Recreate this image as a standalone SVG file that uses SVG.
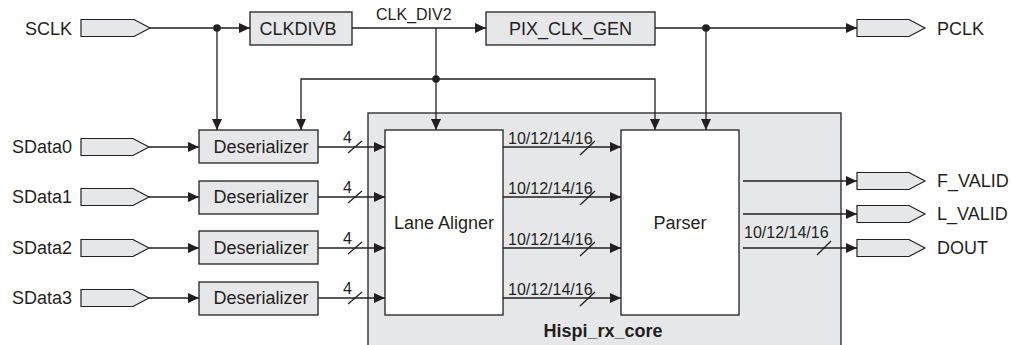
<svg xmlns="http://www.w3.org/2000/svg" width="1013" height="345" viewBox="0 0 1013 345">
<style>
.box{fill:#e6e7e8;stroke:#231f20;stroke-width:1.3}
.wbox{fill:#ffffff;stroke:#231f20;stroke-width:1.3}
.port{fill:#e6e7e8;stroke:#231f20;stroke-width:1.2}
.t{font-family:"Liberation Sans",Arial,sans-serif;font-size:18px;fill:#231f20}
.s{font-family:"Liberation Sans",Arial,sans-serif;font-size:16px;fill:#231f20}
.b{font-family:"Liberation Sans",Arial,sans-serif;font-size:18px;font-weight:bold;fill:#231f20}
.w{fill:none;stroke:#231f20;stroke-width:1.3}
.a{marker-end:url(#arr)}
.dot{fill:#231f20}
</style>
<defs>
<marker id="arr" viewBox="0 0 11 10" refX="11" refY="5" markerWidth="11" markerHeight="10" markerUnits="userSpaceOnUse" orient="auto"><path d="M0,0 L11,5 L0,10 z" fill="#231f20"/></marker>
</defs>
<rect width="1013" height="345" fill="#ffffff"/>

<g id="hispi_rx_core">
<rect class="box" x="368" y="113" width="473" height="240"/>
<text class="b" x="603" y="337" text-anchor="middle">Hispi_rx_core</text>
</g>

<g id="sclk"><path class="port" d="M81,19.5 H134 L150,28 L134,36.5 H81 Z"/><text class="t" x="25" y="35">SCLK</text></g>
<g id="clkdivb"><rect class="box" x="250" y="12" width="102" height="33"/><text class="t" x="298" y="35" text-anchor="middle">CLKDIVB</text></g>
<g id="pix_clk_gen"><rect class="box" x="486" y="12" width="169" height="33"/><text class="t" x="570.5" y="35" text-anchor="middle">PIX_CLK_GEN</text></g>
<g id="pclk"><path class="port" d="M857,19.5 H909 L925,28 L909,36.5 H857 Z"/><text class="t" x="937" y="35">PCLK</text></g>

<g id="sdata0"><path class="port" d="M81,138.5 H133 L149,147 L133,155.5 H81 Z"/><text class="t" x="12" y="153">SData0</text></g>
<g id="sdata1"><path class="port" d="M81,188.5 H133 L149,197 L133,205.5 H81 Z"/><text class="t" x="12" y="203">SData1</text></g>
<g id="sdata2"><path class="port" d="M81,239.5 H133 L149,248 L133,256.5 H81 Z"/><text class="t" x="12" y="254">SData2</text></g>
<g id="sdata3"><path class="port" d="M81,289.5 H133 L149,298 L133,306.5 H81 Z"/><text class="t" x="12" y="304">SData3</text></g>

<g id="deser0"><rect class="box" x="199" y="130" width="119" height="33"/><text class="t" x="261" y="153" text-anchor="middle">Deserializer</text></g>
<g id="deser1"><rect class="box" x="199" y="181" width="119" height="33"/><text class="t" x="261" y="203" text-anchor="middle">Deserializer</text></g>
<g id="deser2"><rect class="box" x="199" y="231" width="119" height="33"/><text class="t" x="261" y="254" text-anchor="middle">Deserializer</text></g>
<g id="deser3"><rect class="box" x="199" y="282" width="119" height="33"/><text class="t" x="261" y="304" text-anchor="middle">Deserializer</text></g>

<g id="lane_aligner"><rect class="wbox" x="385" y="130" width="118" height="185"/><text class="t" x="444" y="228.5" text-anchor="middle">Lane Aligner</text></g>
<g id="parser"><rect class="wbox" x="621" y="130" width="118" height="185"/><text class="t" x="680" y="228.5" text-anchor="middle">Parser</text></g>

<g id="f_valid"><path class="port" d="M857,172.5 H909 L925,181 L909,189.5 H857 Z"/><text class="t" x="937" y="187">F_VALID</text></g>
<g id="l_valid"><path class="port" d="M857,205.5 H909 L925,214 L909,222.5 H857 Z"/><text class="t" x="937" y="220">L_VALID</text></g>
<g id="dout"><path class="port" d="M857,239.5 H909 L925,248 L909,256.5 H857 Z"/><text class="t" x="937" y="254">DOUT</text></g>

<g id="connectors">
<path class="w a" d="M150,28 H250"/>
<path class="w a" d="M217,28 V130"/>
<path class="w a" d="M352,28 H486"/>
<path class="w a" d="M436,28 V130"/>
<path class="w a" d="M436,79 H301 V130"/>
<path class="w a" d="M436,79 H655 V130"/>
<path class="w a" d="M655,28 H857"/>
<path class="w a" d="M706,28 V130"/>
<circle class="dot" cx="217" cy="28" r="3.8"/>
<circle class="dot" cx="436" cy="79" r="3.8"/>
<circle class="dot" cx="706" cy="28" r="3.8"/>
<text class="s" x="376" y="20">CLK_DIV2</text>

<path class="w a" d="M149,147 H199"/>
<path class="w a" d="M149,197 H199"/>
<path class="w a" d="M149,248 H199"/>
<path class="w a" d="M149,298 H199"/>

<path class="w a" d="M318,147 H385"/>
<path class="w a" d="M318,197 H385"/>
<path class="w a" d="M318,248 H385"/>
<path class="w a" d="M318,298 H385"/>
<path class="w" d="M348,153 L362,141 M348,203 L362,191 M348,254 L362,242 M348,304 L362,292"/>
<text class="s" x="343" y="143">4</text>
<text class="s" x="343" y="193">4</text>
<text class="s" x="343" y="244">4</text>
<text class="s" x="343" y="294">4</text>

<path class="w a" d="M503,147 H621"/>
<path class="w a" d="M503,197 H621"/>
<path class="w a" d="M503,248 H621"/>
<path class="w a" d="M503,298 H621"/>
<path class="w" d="M580,155 L595,141 M580,205 L595,191 M580,256 L595,242 M580,306 L595,292"/>
<text class="s" x="508" y="143.5">10/12/14/16</text>
<text class="s" x="508" y="193.5">10/12/14/16</text>
<text class="s" x="508" y="244.5">10/12/14/16</text>
<text class="s" x="508" y="294.5">10/12/14/16</text>

<path class="w a" d="M743,181 H857"/>
<path class="w a" d="M743,214 H857"/>
<path class="w a" d="M743,248 H857"/>
<path class="w" d="M817,255 L831,241"/>
<text class="s" x="744" y="238">10/12/14/16</text>
</g>
</svg>
